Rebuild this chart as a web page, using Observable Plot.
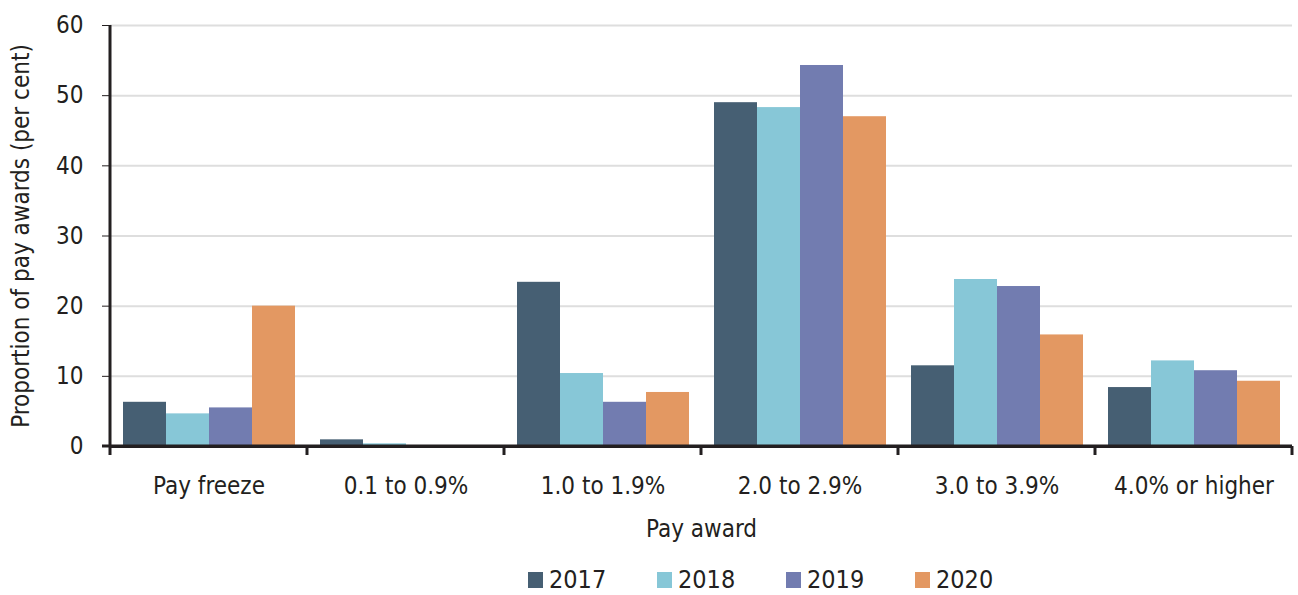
<!DOCTYPE html>
<html>
<head>
<meta charset="utf-8">
<script src="https://cdn.jsdelivr.net/npm/d3@7"></script>
<script src="https://cdn.jsdelivr.net/npm/@observablehq/plot@0.6"></script>
<style>
  html, body { margin: 0; padding: 0; background: #fff; }
  body { width: 1298px; height: 595px; overflow: hidden; font-family: "DejaVu Sans Condensed", "Liberation Sans Narrow", sans-serif; color: #231f20; }
  #legend { position: relative; height: 40px; }
  .item { position: absolute; top: 12px; display: flex; align-items: center; font-size: 25px; line-height: 26px; }
  .sw { width: 15px; height: 16px; margin-right: 6px; }
</style>
</head>
<body>
<div id="chart"></div>
<div id="legend"></div>
<script>
const categories = ["Pay freeze", "0.1 to 0.9%", "1.0 to 1.9%", "2.0 to 2.9%", "3.0 to 3.9%", "4.0% or higher"];
const years = ["2017", "2018", "2019", "2020"];
const values2017 = [6.3, 0.95, 23.4, 49.0, 11.5, 8.4];
const values2018 = [4.65, 0.38, 10.4, 48.3, 23.8, 12.2];
const values2019 = [5.5, 0, 6.3, 54.3, 22.8, 10.8];
const values2020 = [20.0, 0, 7.7, 47.0, 15.9, 9.3];
const colors = ["#465f73", "#87c7d7", "#727cb0", "#e39862"];
const yTicks = [0, 10, 20, 30, 40, 50, 60];

const seriesValues = [values2017, values2018, values2019, values2020];
const data = [];
categories.forEach((c, i) => years.forEach((y, j) => data.push({category: c, year: y, value: seriesValues[j][i]})));

const plot = Plot.plot({
  width: 1298,
  height: 555,
  marginLeft: 108,
  marginRight: 4,
  marginTop: 25,
  marginBottom: 109,
  style: {fontFamily: '"DejaVu Sans Condensed", "Liberation Sans Narrow", sans-serif', fontSize: "24px", color: "#231f20", background: "white"},
  fx: {domain: categories, padding: 0, axis: "bottom", tickSize: 0, tickPadding: 30, label: "Pay award", labelAnchor: "center", labelOffset: 90, labelArrow: false},
  x: {domain: years, paddingInner: 0, paddingOuter: 0.29, axis: null},
  y: {domain: [0, 60], ticks: yTicks, tickSize: 8, tickPadding: 19, tickFormat: d => d, label: "Proportion of pay awards (per cent)", labelAnchor: "center", labelOffset: 99, labelArrow: false},
  color: {domain: years, range: colors},
  marks: [
    Plot.gridY(yTicks.filter(d => d > 0), {stroke: "#dedede", strokeOpacity: 1, strokeWidth: 2}),
    Plot.barY(data, {fx: "category", x: "year", y: "value", fill: "year"}),
    Plot.ruleY([0], {stroke: "#231f20", strokeWidth: 3})
  ]
});
document.getElementById("chart").appendChild(plot);

// Axis line and category-boundary ticks, placed with the plot's own scales
const svg = d3.select(plot);
const fx = plot.scale("fx");
const y = plot.scale("y");
const y0 = y.apply(0), yTop = y.apply(60);
const xLeft = fx.apply(categories[0]);
const band = fx.bandwidth;
const g = svg.append("g").attr("stroke", "#231f20").attr("stroke-width", 3);
g.append("line").attr("x1", xLeft).attr("x2", xLeft).attr("y1", yTop).attr("y2", y0 + 9);
categories.forEach((c, i) => {
  const xb = fx.apply(c) + band;
  g.append("line").attr("x1", xb).attr("x2", xb).attr("y1", y0).attr("y2", y0 + 9);
});
g.append("line").attr("x1", xLeft - 8).attr("x2", fx.apply(categories[categories.length - 1]) + band).attr("y1", y0).attr("y2", y0);

// Legend
const legend = document.getElementById("legend");
years.forEach((yr, j) => {
  const it = document.createElement("div");
  it.className = "item";
  it.style.left = (528 + j * 129) + "px";
  const sw = document.createElement("div");
  sw.className = "sw";
  sw.style.background = colors[j];
  it.appendChild(sw);
  const t = document.createElement("span");
  t.textContent = yr;
  it.appendChild(t);
  legend.appendChild(it);
});
</script>
</body>
</html>
